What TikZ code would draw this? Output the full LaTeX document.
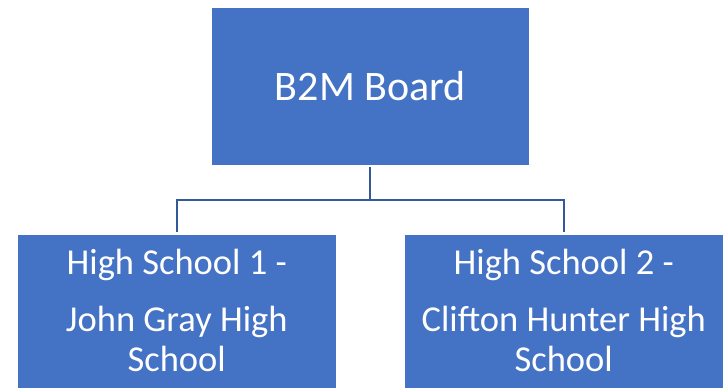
\documentclass[tikz,border=0pt]{standalone}
\usepackage{fontspec}
\setmainfont{Carlito}
\usepackage{xcolor}
\usepackage{tikz}
\usetikzlibrary{trees}
\usetikzlibrary{positioning}
\definecolor{boxblue}{HTML}{4472C4}
\definecolor{linkblue}{HTML}{34599A}

\begin{document}
\begin{tikzpicture}[
  level distance=227.5pt,
  level 1/.style={sibling distance=387pt},
  orgbox/.style={rectangle,fill=boxblue,text=white,minimum width=317.5pt,
    minimum height=157.5pt,inner sep=0pt,align=center},
  edge from parent/.style={draw=linkblue,line width=2pt},
  edge from parent path={([yshift=-2pt]\tikzparentnode.south) -- ++(0,-33pt)
    -| ([yshift=3pt]\tikzchildnode.north)},
  schoolfont/.style={font=\fontsize{36.5}{40}\selectfont}]
  \useasboundingbox (0,0) rectangle (724pt,-388pt);
  \node[orgbox,font=\fontsize{42}{50}\selectfont] (board) at (370.25pt,-86.25pt) {B2M Board}
    child {node[orgbox,schoolfont] (school1)
      {High School 1 -\\[16.7pt]John Gray High\\School\rule[-7pt]{0pt}{0pt}}}
    child {node[orgbox,schoolfont] (school2)
      {High School 2 -\\[16.7pt]Clifton Hunter High\\School\rule[-7pt]{0pt}{0pt}}};
\end{tikzpicture}
\end{document}
